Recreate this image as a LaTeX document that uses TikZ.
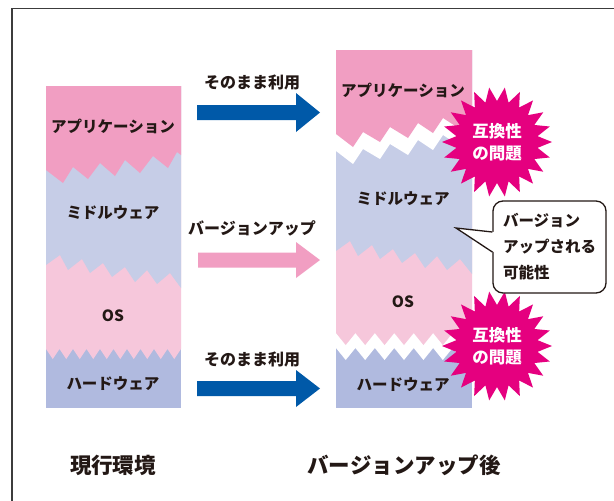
\documentclass[tikz,border=0pt]{standalone}
\usepackage{fontspec}
\setmainfont{Noto Sans CJK JP}
\usetikzlibrary{calc}
\definecolor{appP}{HTML}{F19EC2}
\definecolor{mwL}{HTML}{C6CDE7}
\definecolor{osP}{HTML}{F6C7DB}
\definecolor{hwB}{HTML}{B0BADF}
\definecolor{arrB}{HTML}{0059A8}
\definecolor{arrP}{HTML}{F19EC2}
\definecolor{mag}{HTML}{E5007F}
\definecolor{ink}{HTML}{231815}
\definecolor{frameC}{HTML}{3C3C3C}
\begin{document}
\begin{tikzpicture}[x=1pt,y=-1pt,
  lbl/.style={font=\bfseries\fontsize{15.5}{18}\selectfont, text=ink, inner sep=0},
  alabel/.style={font=\bfseries\fontsize{16}{18}\selectfont, text=ink, inner sep=0},
  title/.style={font=\bfseries\fontsize{21.5}{24}\selectfont, text=ink, inner sep=0},
  bursttxt/.style={font=\bfseries\fontsize{16.5}{22}\selectfont, text=white, align=center, inner sep=0},
  callbox/.style={draw=ink, line width=1.3pt, fill=white, rounded corners=10pt,
    minimum width=113pt, minimum height=92pt, align=left, inner sep=0,
    font=\bfseries\fontsize{15.5}{26}\selectfont, text=ink},
  calline/.style={draw=ink, line width=1.3pt, line join=miter},
  frameline/.style={draw=frameC, line width=1.3pt}]
\useasboundingbox (0,0) rectangle (614,501);
\fill[white] (0,0) rectangle (614,501);
\draw[frameline] (12,501) -- (12,8.5) -- (614,8.5);

% ---------- left stack ----------
\fill[hwB] (46,86) rectangle (181,408);
\fill[osP] (46,86) -- plot[samples at={0,...,20}] ({46+\x*6.75},{349+10*mod(\x,2)}) -- (181,86) -- cycle;
\fill[mwL] (46,86) -- (46,265) -- (60,255) -- (68,270) -- (82,259) -- (90,273) -- (103,263) -- (112,277) -- (125,267) -- (135,282) -- (147,270) -- (157,284) -- (170,273) -- (181,288) -- (181,86) -- cycle;
\fill[appP] (46,86) -- (46,170) -- (63,183) -- (73,167) -- (88,179) -- (100,163) -- (115,176) -- (125,160) -- (140,173) -- (153,156) -- (168,168) -- (177,152) -- (181,155) -- (181,86) -- cycle;

\node[lbl] (lapp) at (113,126) {アプリケーション};
\node[lbl] (lmw)  at (113,213) {ミドルウェア};
\node[lbl] (los)  at (113,316) {OS};
\node[lbl] (lhw)  at (113,384) {ハードウェア};

% ---------- right stack ----------
\fill[hwB] (336,50) rectangle (472,408);
\fill[white] (336,50) -- plot[samples at={0,...,14}] ({336+\x*136/14},{348+12*mod(\x,2)}) -- (472,50) -- cycle;
\fill[osP] (336,50) -- plot[samples at={0,...,14}] ({336+\x*136/14},{333+12*mod(\x,2)}) -- (472,50) -- cycle;
\fill[mwL] (336,50) -- (336,251) -- (350,241) -- (358,256) -- (372,245) -- (380,259) -- (393,249) -- (402,263) -- (415,253) -- (425,268) -- (437,256) -- (447,270) -- (460,259) -- (472,274) -- (472,50) -- cycle;
\fill[white] (336,50) -- (336,151) -- (353,164) -- (363,149) -- (380,159) -- (390,144) -- (408,155) -- (418,140) -- (433,150) -- (443,135) -- (460,146) -- (470,131) -- (472,133) -- (472,50) -- cycle;
\fill[appP] (336,50) -- (336,134) -- (353,147) -- (363,132) -- (380,142) -- (390,127) -- (408,138) -- (418,123) -- (433,133) -- (443,118) -- (460,129) -- (470,114) -- (472,116) -- (472,50) -- cycle;

\node[lbl] (rapp) at (403,90) {アプリケーション};
\node[lbl] (rmw)  at (403,199) {ミドルウェア};
\node[lbl] (ros)  at (403,302) {OS};
\node[lbl] (rhw)  at (403,385) {ハードウェア};

% ---------- starbursts ----------
\fill[mag] plot[samples at={0,...,43}] ({497+(48+7*cos(\x*180))*cos(\x*360/44)},{142+(48+7*cos(\x*180))*sin(\x*360/44)}) -- cycle;
\node[bursttxt] (b1) at (497,142) {互換性\\の問題};
\fill[mag] plot[samples at={0,...,43}] ({497+(48+7*cos(\x*180))*cos(\x*360/44)},{346+(48+7*cos(\x*180))*sin(\x*360/44)}) -- cycle;
\node[bursttxt] (b2) at (497,346) {互換性\\の問題};

% ---------- arrows ----------
\fill[arrB] (197,105) -- (296,105) -- (296,93) -- (320,112.5) -- (296,132) -- (296,120) -- (197,120) -- cycle;
\node[alabel] (t1) at (252,82) {そのまま利用};
\fill[arrP] (198,252.5) -- (296,252.5) -- (296,242) -- (320,260) -- (296,278) -- (296,267.5) -- (198,267.5) -- cycle;
\node[alabel] (t2) at (252,228) {バージョンアップ};
\fill[arrB] (197,381) -- (296,381) -- (296,370) -- (320,388.5) -- (296,407) -- (296,396) -- (197,396) -- cycle;
\node[alabel] (t3) at (252,359) {そのまま利用};

% ---------- callout ----------
\node[callbox] (cb) at (549.5,247) {バージョン\\アップされる\\可能性};
\coordinate (tip) at (456,228);
\fill[white] (tip) -- ($(cb.west)+(1.5,-15)$) -- ($(cb.west)+(1.5,5)$) -- cycle;
\draw[calline] ($(cb.west)+(0,-15)$) -- (tip) -- ($(cb.west)+(0,5)$);

% ---------- titles ----------
\node[title] (cur) at (113,465) {現行環境};
\node[title] (aft) at (404,465) {バージョンアップ後};
\end{tikzpicture}
\end{document}
